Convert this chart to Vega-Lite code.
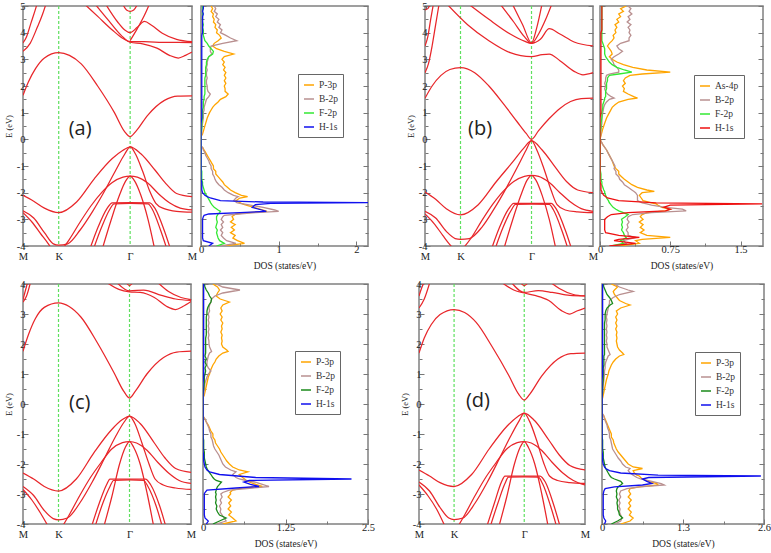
{
"$schema":"https://vega.github.io/schema/vega-lite/v6.json",
"padding":{"left":3,"top":0,"right":0,"bottom":0},
"background":"white",
"config":{
 "view":{"stroke":"#808080","strokeWidth":1.5},
 "axis":{"domain":false,"grid":false,"labelFont":"Liberation Serif","labelFontSize":10.5,"labelColor":"#222","tickColor":"#777","tickWidth":1,"titleFont":"Liberation Serif","titleFontWeight":"normal","titleColor":"#222","labelFlush":false,"labelOverlap":false,"labelBound":false}
},
"datasets":{
"kpts":[{"k":1},{"k":3}],
"bandA":[
{"b":"c1","k":0,"e":1.65},{"b":"c1","k":0.15,"e":2.15},{"b":"c1","k":0.35,"e":2.65},{"b":"c1","k":0.6,"e":3.05},{"b":"c1","k":1,"e":3.25},{"b":"c1","k":1.3,"e":3.15},{"b":"c1","k":1.63,"e":2.83},{"b":"c1","k":2.09,"e":2.0},{"b":"c1","k":2.56,"e":1.0},{"b":"c1","k":2.84,"e":0.3},{"b":"c1","k":3,"e":0.1},{"b":"c1","k":3.16,"e":0.3},{"b":"c1","k":3.49,"e":0.9},{"b":"c1","k":3.96,"e":1.46},{"b":"c1","k":4.33,"e":1.62},{"b":"c1","k":4.732,"e":1.63},
{"b":"u1","k":0,"e":3.3},{"b":"u1","k":0.2,"e":3.6},{"b":"u1","k":0.4,"e":4.2},{"b":"u1","k":0.55,"e":4.7},{"b":"u1","k":0.65,"e":5.1},
{"b":"u2","k":0,"e":3.62},{"b":"u2","k":0.1,"e":3.85},{"b":"u2","k":0.22,"e":4.35},{"b":"u2","k":0.33,"e":4.8},{"b":"u2","k":0.4,"e":5.1},
{"b":"u3","k":1.7,"e":5.1},{"b":"u3","k":2.1,"e":4.6},{"b":"u3","k":2.5,"e":4.1},{"b":"u3","k":2.8,"e":3.78},{"b":"u3","k":3,"e":3.66},{"b":"u3","k":3.4,"e":3.66},{"b":"u3","k":3.9,"e":3.64},{"b":"u3","k":4.732,"e":3.63},
{"b":"u4","k":2.0,"e":5.1},{"b":"u4","k":2.4,"e":4.45},{"b":"u4","k":2.75,"e":3.9},{"b":"u4","k":3,"e":3.64},{"b":"u4","k":3.35,"e":3.58},{"b":"u4","k":3.75,"e":3.42},{"b":"u4","k":4.1,"e":3.15},{"b":"u4","k":4.35,"e":3.05},{"b":"u4","k":4.55,"e":3.15},{"b":"u4","k":4.732,"e":3.27},
{"b":"u5","k":2.3,"e":5.1},{"b":"u5","k":2.65,"e":4.4},{"b":"u5","k":2.85,"e":4.1},{"b":"u5","k":3,"e":4.0},{"b":"u5","k":3.2,"e":4.2},{"b":"u5","k":3.4,"e":4.42},{"b":"u5","k":3.6,"e":4.28},{"b":"u5","k":3.9,"e":3.98},{"b":"u5","k":4.3,"e":3.75},{"b":"u5","k":4.732,"e":3.66},
{"b":"u6","k":2.78,"e":5.1},{"b":"u6","k":2.9,"e":4.85},{"b":"u6","k":3,"e":4.8},{"b":"u6","k":3.1,"e":4.85},{"b":"u6","k":3.22,"e":5.1},
{"b":"u7","k":3,"e":3.7},{"b":"u7","k":3.2,"e":4.15},{"b":"u7","k":3.4,"e":4.65},{"b":"u7","k":3.55,"e":5.1},
{"b":"v1","k":0,"e":-2.1},{"b":"v1","k":0.3,"e":-2.32},{"b":"v1","k":0.6,"e":-2.58},{"b":"v1","k":1,"e":-2.75},{"b":"v1","k":1.5,"e":-2.35},{"b":"v1","k":2.0,"e":-1.47},{"b":"v1","k":2.5,"e":-0.72},{"b":"v1","k":2.8,"e":-0.41},{"b":"v1","k":3,"e":-0.28},{"b":"v1","k":3.3,"e":-0.54},{"b":"v1","k":3.7,"e":-1.16},{"b":"v1","k":4.0,"e":-1.66},{"b":"v1","k":4.3,"e":-2.03},{"b":"v1","k":4.732,"e":-2.15},
{"b":"v2","k":0,"e":-2.68},{"b":"v2","k":0.3,"e":-2.95},{"b":"v2","k":0.6,"e":-3.5},{"b":"v2","k":0.85,"e":-3.92},{"b":"v2","k":1.0,"e":-3.97},{"b":"v2","k":1.25,"e":-3.92},{"b":"v2","k":1.6,"e":-3.4},{"b":"v2","k":1.95,"e":-2.7},{"b":"v2","k":2.3,"e":-1.9},{"b":"v2","k":2.6,"e":-1.15},{"b":"v2","k":2.85,"e":-0.55},{"b":"v2","k":3,"e":-0.28},{"b":"v2","k":3.15,"e":-0.55},{"b":"v2","k":3.35,"e":-1.2},{"b":"v2","k":3.55,"e":-1.95},{"b":"v2","k":3.72,"e":-2.4},{"b":"v2","k":3.95,"e":-2.6},{"b":"v2","k":4.3,"e":-2.7},{"b":"v2","k":4.732,"e":-2.73},
{"b":"v3","k":0,"e":-2.75},{"b":"v3","k":0.25,"e":-3.1},{"b":"v3","k":0.5,"e":-3.55},{"b":"v3","k":0.7,"e":-3.9},{"b":"v3","k":0.8,"e":-4.1},
{"b":"v4","k":1.0,"e":-4.3},{"b":"v4","k":1.3,"e":-3.75},{"b":"v4","k":1.6,"e":-3.1},{"b":"v4","k":1.9,"e":-2.5},{"b":"v4","k":2.2,"e":-2.0},{"b":"v4","k":2.5,"e":-1.62},{"b":"v4","k":2.8,"e":-1.42},{"b":"v4","k":3,"e":-1.38},{"b":"v4","k":3.2,"e":-1.42},{"b":"v4","k":3.5,"e":-1.65},{"b":"v4","k":3.8,"e":-2.05},{"b":"v4","k":4.1,"e":-2.38},{"b":"v4","k":4.4,"e":-2.58},{"b":"v4","k":4.732,"e":-2.65},
{"b":"v5","k":2.2,"e":-4.2},{"b":"v5","k":2.45,"e":-3.1},{"b":"v5","k":2.7,"e":-2.1},{"b":"v5","k":2.88,"e":-1.55},{"b":"v5","k":3,"e":-1.38},{"b":"v5","k":3.12,"e":-1.55},{"b":"v5","k":3.3,"e":-2.1},{"b":"v5","k":3.5,"e":-3.0},{"b":"v5","k":3.7,"e":-4.2},
{"b":"v6","k":1.85,"e":-4.2},{"b":"v6","k":2.1,"e":-3.3},{"b":"v6","k":2.35,"e":-2.6},{"b":"v6","k":2.5,"e":-2.38},{"b":"v6","k":3,"e":-2.37},{"b":"v6","k":3.55,"e":-2.38},{"b":"v6","k":3.7,"e":-2.6},{"b":"v6","k":3.95,"e":-3.4},{"b":"v6","k":4.15,"e":-4.2},
{"b":"v7","k":1.95,"e":-4.2},{"b":"v7","k":2.2,"e":-3.3},{"b":"v7","k":2.42,"e":-2.65},{"b":"v7","k":2.55,"e":-2.42},{"b":"v7","k":3,"e":-2.4},{"b":"v7","k":3.5,"e":-2.42},{"b":"v7","k":3.62,"e":-2.62},{"b":"v7","k":3.85,"e":-3.4},{"b":"v7","k":4.05,"e":-4.2}
],
"bandB":[
{"b":"c1","k":0,"e":1.54},{"b":"c1","k":0.2,"e":2.0},{"b":"c1","k":0.45,"e":2.4},{"b":"c1","k":0.7,"e":2.62},{"b":"c1","k":1,"e":2.69},{"b":"c1","k":1.4,"e":2.5},{"b":"c1","k":1.8,"e":2.0},{"b":"c1","k":2.2,"e":1.35},{"b":"c1","k":2.6,"e":0.65},{"b":"c1","k":2.85,"e":0.22},{"b":"c1","k":3,"e":0.0},{"b":"c1","k":3.2,"e":0.33},{"b":"c1","k":3.5,"e":0.78},{"b":"c1","k":3.8,"e":1.16},{"b":"c1","k":4.1,"e":1.42},{"b":"c1","k":4.4,"e":1.53},{"b":"c1","k":4.732,"e":1.55},
{"b":"u1","k":0,"e":2.5},{"b":"u1","k":0.1,"e":2.85},{"b":"u1","k":0.2,"e":3.5},{"b":"u1","k":0.3,"e":4.3},{"b":"u1","k":0.4,"e":5.1},
{"b":"u2","k":0,"e":3.5},{"b":"u2","k":0.08,"e":3.85},{"b":"u2","k":0.16,"e":4.5},{"b":"u2","k":0.24,"e":5.1},
{"b":"u3","k":0,"e":4.85},{"b":"u3","k":0.08,"e":4.9},{"b":"u3","k":0.15,"e":5.1},
{"b":"u4","k":1.2,"e":5.1},{"b":"u4","k":1.8,"e":4.5},{"b":"u4","k":2.4,"e":3.95},{"b":"u4","k":2.8,"e":3.68},{"b":"u4","k":3,"e":3.6},{"b":"u4","k":3.25,"e":3.75},{"b":"u4","k":3.5,"e":4.15},{"b":"u4","k":3.8,"e":3.95},{"b":"u4","k":4.2,"e":3.65},{"b":"u4","k":4.732,"e":3.5},
{"b":"u5","k":2.1,"e":5.1},{"b":"u5","k":2.5,"e":4.4},{"b":"u5","k":2.8,"e":3.85},{"b":"u5","k":3,"e":3.6},{"b":"u5","k":3.2,"e":3.95},{"b":"u5","k":3.4,"e":4.5},{"b":"u5","k":3.58,"e":5.1},
{"b":"u6","k":2.45,"e":5.1},{"b":"u6","k":2.75,"e":4.3},{"b":"u6","k":3,"e":3.62},{"b":"u6","k":3.15,"e":4.2},{"b":"u6","k":3.3,"e":5.1},
{"b":"u7","k":0.6,"e":5.1},{"b":"u7","k":1.2,"e":4.3},{"b":"u7","k":1.8,"e":3.7},{"b":"u7","k":2.4,"e":3.25},{"b":"u7","k":3,"e":3.1},{"b":"u7","k":3.3,"e":3.18},{"b":"u7","k":3.5,"e":3.2},{"b":"u7","k":3.8,"e":2.95},{"b":"u7","k":4.2,"e":2.55},{"b":"u7","k":4.45,"e":2.42},{"b":"u7","k":4.732,"e":2.5},
{"b":"v1","k":0,"e":-1.98},{"b":"v1","k":0.3,"e":-2.25},{"b":"v1","k":0.6,"e":-2.6},{"b":"v1","k":1,"e":-2.83},{"b":"v1","k":1.5,"e":-2.45},{"b":"v1","k":2.0,"e":-1.6},{"b":"v1","k":2.5,"e":-0.8},{"b":"v1","k":2.8,"e":-0.3},{"b":"v1","k":3,"e":-0.05},{"b":"v1","k":3.3,"e":-0.4},{"b":"v1","k":3.7,"e":-1.1},{"b":"v1","k":4.0,"e":-1.6},{"b":"v1","k":4.3,"e":-1.9},{"b":"v1","k":4.732,"e":-2.0},
{"b":"v2","k":0,"e":-2.7},{"b":"v2","k":0.3,"e":-2.95},{"b":"v2","k":0.6,"e":-3.45},{"b":"v2","k":0.85,"e":-3.72},{"b":"v2","k":1.0,"e":-3.75},{"b":"v2","k":1.25,"e":-3.72},{"b":"v2","k":1.6,"e":-3.3},{"b":"v2","k":1.95,"e":-2.6},{"b":"v2","k":2.3,"e":-1.8},{"b":"v2","k":2.6,"e":-1.05},{"b":"v2","k":2.85,"e":-0.4},{"b":"v2","k":3,"e":-0.05},{"b":"v2","k":3.15,"e":-0.4},{"b":"v2","k":3.35,"e":-1.1},{"b":"v2","k":3.55,"e":-1.9},{"b":"v2","k":3.72,"e":-2.45},{"b":"v2","k":3.95,"e":-2.65},{"b":"v2","k":4.3,"e":-2.72},{"b":"v2","k":4.732,"e":-2.75},
{"b":"v3","k":0,"e":-2.8},{"b":"v3","k":0.25,"e":-3.15},{"b":"v3","k":0.5,"e":-3.6},{"b":"v3","k":0.7,"e":-3.95},{"b":"v3","k":0.8,"e":-4.1},
{"b":"v4","k":1.0,"e":-4.2},{"b":"v4","k":1.3,"e":-3.7},{"b":"v4","k":1.6,"e":-3.05},{"b":"v4","k":1.9,"e":-2.45},{"b":"v4","k":2.2,"e":-1.95},{"b":"v4","k":2.5,"e":-1.58},{"b":"v4","k":2.8,"e":-1.39},{"b":"v4","k":3,"e":-1.35},{"b":"v4","k":3.2,"e":-1.39},{"b":"v4","k":3.5,"e":-1.62},{"b":"v4","k":3.8,"e":-2.0},{"b":"v4","k":4.1,"e":-2.35},{"b":"v4","k":4.4,"e":-2.6},{"b":"v4","k":4.732,"e":-2.7},
{"b":"v5","k":2.2,"e":-4.2},{"b":"v5","k":2.45,"e":-3.1},{"b":"v5","k":2.7,"e":-2.1},{"b":"v5","k":2.88,"e":-1.52},{"b":"v5","k":3,"e":-1.35},{"b":"v5","k":3.12,"e":-1.52},{"b":"v5","k":3.3,"e":-2.1},{"b":"v5","k":3.5,"e":-3.0},{"b":"v5","k":3.7,"e":-4.2},
{"b":"v6","k":1.85,"e":-4.2},{"b":"v6","k":2.1,"e":-3.3},{"b":"v6","k":2.35,"e":-2.62},{"b":"v6","k":2.5,"e":-2.4},{"b":"v6","k":3,"e":-2.4},{"b":"v6","k":3.55,"e":-2.4},{"b":"v6","k":3.7,"e":-2.62},{"b":"v6","k":3.95,"e":-3.4},{"b":"v6","k":4.15,"e":-4.2},
{"b":"v7","k":1.95,"e":-4.2},{"b":"v7","k":2.2,"e":-3.3},{"b":"v7","k":2.42,"e":-2.68},{"b":"v7","k":2.55,"e":-2.44},{"b":"v7","k":3,"e":-2.43},{"b":"v7","k":3.5,"e":-2.44},{"b":"v7","k":3.62,"e":-2.65},{"b":"v7","k":3.85,"e":-3.4},{"b":"v7","k":4.05,"e":-4.2}
],
"bandC":[
{"b":"c1","k":0,"e":1.76},{"b":"c1","k":0.15,"e":2.3},{"b":"c1","k":0.35,"e":2.85},{"b":"c1","k":0.6,"e":3.22},{"b":"c1","k":1,"e":3.37},{"b":"c1","k":1.3,"e":3.25},{"b":"c1","k":1.63,"e":2.9},{"b":"c1","k":2.09,"e":2.05},{"b":"c1","k":2.56,"e":1.05},{"b":"c1","k":2.84,"e":0.42},{"b":"c1","k":3,"e":0.2},{"b":"c1","k":3.16,"e":0.42},{"b":"c1","k":3.49,"e":1.0},{"b":"c1","k":3.96,"e":1.55},{"b":"c1","k":4.33,"e":1.73},{"b":"c1","k":4.732,"e":1.76},
{"b":"u1","k":0,"e":3.4},{"b":"u1","k":0.1,"e":3.6},{"b":"u1","k":0.22,"e":4.1},
{"b":"u2","k":0,"e":3.48},{"b":"u2","k":0.06,"e":3.75},{"b":"u2","k":0.14,"e":4.1},
{"b":"u3","k":2.3,"e":4.1},{"b":"u3","k":2.7,"e":3.82},{"b":"u3","k":3,"e":3.74},{"b":"u3","k":3.3,"e":3.72},{"b":"u3","k":3.7,"e":3.55},{"b":"u3","k":4.05,"e":3.25},{"b":"u3","k":4.3,"e":3.15},{"b":"u3","k":4.5,"e":3.25},{"b":"u3","k":4.732,"e":3.42},
{"b":"u4","k":2.6,"e":4.1},{"b":"u4","k":3,"e":3.77},{"b":"u4","k":3.4,"e":3.8},{"b":"u4","k":3.9,"e":3.62},{"b":"u4","k":4.3,"e":3.5},{"b":"u4","k":4.732,"e":3.45},
{"b":"u5","k":2.88,"e":4.1},{"b":"u5","k":3,"e":3.95},{"b":"u5","k":3.12,"e":4.1},
{"b":"u6","k":3.75,"e":4.1},{"b":"u6","k":4.1,"e":3.75},{"b":"u6","k":4.45,"e":3.55},{"b":"u6","k":4.732,"e":3.48},
{"b":"v1","k":0,"e":-2.3},{"b":"v1","k":0.3,"e":-2.5},{"b":"v1","k":0.6,"e":-2.75},{"b":"v1","k":1,"e":-2.9},{"b":"v1","k":1.5,"e":-2.5},{"b":"v1","k":2.0,"e":-1.62},{"b":"v1","k":2.5,"e":-0.85},{"b":"v1","k":2.8,"e":-0.52},{"b":"v1","k":3,"e":-0.4},{"b":"v1","k":3.3,"e":-0.65},{"b":"v1","k":3.7,"e":-1.3},{"b":"v1","k":4.0,"e":-1.8},{"b":"v1","k":4.3,"e":-2.15},{"b":"v1","k":4.732,"e":-2.28},
{"b":"v2","k":0,"e":-2.75},{"b":"v2","k":0.3,"e":-3.05},{"b":"v2","k":0.6,"e":-3.55},{"b":"v2","k":0.85,"e":-3.82},{"b":"v2","k":1.0,"e":-3.86},{"b":"v2","k":1.25,"e":-3.8},{"b":"v2","k":1.6,"e":-3.3},{"b":"v2","k":1.95,"e":-2.6},{"b":"v2","k":2.3,"e":-1.8},{"b":"v2","k":2.6,"e":-1.1},{"b":"v2","k":2.85,"e":-0.6},{"b":"v2","k":3,"e":-0.4},{"b":"v2","k":3.15,"e":-0.65},{"b":"v2","k":3.35,"e":-1.3},{"b":"v2","k":3.55,"e":-2.0},{"b":"v2","k":3.72,"e":-2.5},{"b":"v2","k":3.95,"e":-2.7},{"b":"v2","k":4.3,"e":-2.8},{"b":"v2","k":4.732,"e":-2.85},
{"b":"v3","k":0,"e":-2.85},{"b":"v3","k":0.25,"e":-3.2},{"b":"v3","k":0.5,"e":-3.65},{"b":"v3","k":0.72,"e":-4.1},
{"b":"v4","k":1.0,"e":-4.3},{"b":"v4","k":1.3,"e":-3.7},{"b":"v4","k":1.6,"e":-3.05},{"b":"v4","k":1.9,"e":-2.45},{"b":"v4","k":2.2,"e":-1.95},{"b":"v4","k":2.5,"e":-1.5},{"b":"v4","k":2.8,"e":-1.29},{"b":"v4","k":3,"e":-1.25},{"b":"v4","k":3.2,"e":-1.3},{"b":"v4","k":3.5,"e":-1.55},{"b":"v4","k":3.8,"e":-1.95},{"b":"v4","k":4.1,"e":-2.3},{"b":"v4","k":4.4,"e":-2.55},{"b":"v4","k":4.732,"e":-2.65},
{"b":"v5","k":2.25,"e":-4.2},{"b":"v5","k":2.5,"e":-3.1},{"b":"v5","k":2.72,"e":-2.0},{"b":"v5","k":2.88,"e":-1.45},{"b":"v5","k":3,"e":-1.25},{"b":"v5","k":3.12,"e":-1.45},{"b":"v5","k":3.3,"e":-2.0},{"b":"v5","k":3.5,"e":-3.0},{"b":"v5","k":3.7,"e":-4.2},
{"b":"v6","k":1.9,"e":-4.2},{"b":"v6","k":2.15,"e":-3.3},{"b":"v6","k":2.35,"e":-2.7},{"b":"v6","k":2.45,"e":-2.5},{"b":"v6","k":3,"e":-2.5},{"b":"v6","k":3.45,"e":-2.5},{"b":"v6","k":3.6,"e":-2.7},{"b":"v6","k":3.85,"e":-3.4},{"b":"v6","k":4.05,"e":-4.2},
{"b":"v7","k":2.0,"e":-4.2},{"b":"v7","k":2.25,"e":-3.3},{"b":"v7","k":2.45,"e":-2.75},{"b":"v7","k":2.55,"e":-2.55},{"b":"v7","k":3,"e":-2.53},{"b":"v7","k":3.4,"e":-2.55},{"b":"v7","k":3.52,"e":-2.75},{"b":"v7","k":3.75,"e":-3.4},{"b":"v7","k":3.95,"e":-4.2}
],
"bandD":[
{"b":"c1","k":0,"e":1.7},{"b":"c1","k":0.15,"e":2.2},{"b":"c1","k":0.35,"e":2.65},{"b":"c1","k":0.6,"e":2.98},{"b":"c1","k":1,"e":3.15},{"b":"c1","k":1.3,"e":3.05},{"b":"c1","k":1.63,"e":2.72},{"b":"c1","k":2.09,"e":1.9},{"b":"c1","k":2.56,"e":0.95},{"b":"c1","k":2.84,"e":0.33},{"b":"c1","k":3,"e":0.13},{"b":"c1","k":3.16,"e":0.33},{"b":"c1","k":3.49,"e":0.92},{"b":"c1","k":3.96,"e":1.5},{"b":"c1","k":4.33,"e":1.68},{"b":"c1","k":4.732,"e":1.7},
{"b":"u1","k":0,"e":3.2},{"b":"u1","k":0.15,"e":3.5},{"b":"u1","k":0.32,"e":4.1},
{"b":"u2","k":0,"e":3.6},{"b":"u2","k":0.07,"e":3.85},{"b":"u2","k":0.16,"e":4.1},
{"b":"u3","k":2.3,"e":4.1},{"b":"u3","k":2.7,"e":3.8},{"b":"u3","k":3,"e":3.7},{"b":"u3","k":3.3,"e":3.62},{"b":"u3","k":3.7,"e":3.45},{"b":"u3","k":4.05,"e":3.12},{"b":"u3","k":4.3,"e":3.0},{"b":"u3","k":4.5,"e":3.1},{"b":"u3","k":4.732,"e":3.2},
{"b":"u4","k":2.6,"e":4.1},{"b":"u4","k":3,"e":3.72},{"b":"u4","k":3.4,"e":3.78},{"b":"u4","k":3.8,"e":3.72},{"b":"u4","k":4.3,"e":3.62},{"b":"u4","k":4.732,"e":3.6},
{"b":"u5","k":2.85,"e":4.1},{"b":"u5","k":3,"e":3.95},{"b":"u5","k":3.15,"e":4.1},
{"b":"u6","k":3.7,"e":4.1},{"b":"u6","k":4.0,"e":3.85},{"b":"u6","k":4.4,"e":3.65},{"b":"u6","k":4.732,"e":3.6},
{"b":"v1","k":0,"e":-2.2},{"b":"v1","k":0.3,"e":-2.4},{"b":"v1","k":0.6,"e":-2.62},{"b":"v1","k":1,"e":-2.75},{"b":"v1","k":1.5,"e":-2.35},{"b":"v1","k":2.0,"e":-1.5},{"b":"v1","k":2.5,"e":-0.75},{"b":"v1","k":2.8,"e":-0.43},{"b":"v1","k":3,"e":-0.3},{"b":"v1","k":3.3,"e":-0.56},{"b":"v1","k":3.7,"e":-1.2},{"b":"v1","k":4.0,"e":-1.7},{"b":"v1","k":4.3,"e":-2.05},{"b":"v1","k":4.732,"e":-2.2},
{"b":"v2","k":0,"e":-2.6},{"b":"v2","k":0.3,"e":-2.9},{"b":"v2","k":0.6,"e":-3.45},{"b":"v2","k":0.85,"e":-3.8},{"b":"v2","k":1.0,"e":-3.85},{"b":"v2","k":1.25,"e":-3.8},{"b":"v2","k":1.6,"e":-3.3},{"b":"v2","k":1.95,"e":-2.6},{"b":"v2","k":2.3,"e":-1.8},{"b":"v2","k":2.6,"e":-1.1},{"b":"v2","k":2.85,"e":-0.57},{"b":"v2","k":3,"e":-0.3},{"b":"v2","k":3.15,"e":-0.57},{"b":"v2","k":3.35,"e":-1.2},{"b":"v2","k":3.55,"e":-1.95},{"b":"v2","k":3.72,"e":-2.4},{"b":"v2","k":3.95,"e":-2.55},{"b":"v2","k":4.3,"e":-2.62},{"b":"v2","k":4.732,"e":-2.65},
{"b":"v3","k":0,"e":-2.7},{"b":"v3","k":0.25,"e":-3.05},{"b":"v3","k":0.5,"e":-3.5},{"b":"v3","k":0.75,"e":-4.1},
{"b":"v4","k":1.0,"e":-4.3},{"b":"v4","k":1.3,"e":-3.7},{"b":"v4","k":1.6,"e":-3.05},{"b":"v4","k":1.9,"e":-2.45},{"b":"v4","k":2.2,"e":-1.95},{"b":"v4","k":2.5,"e":-1.5},{"b":"v4","k":2.8,"e":-1.29},{"b":"v4","k":3,"e":-1.25},{"b":"v4","k":3.2,"e":-1.3},{"b":"v4","k":3.5,"e":-1.55},{"b":"v4","k":3.8,"e":-1.95},{"b":"v4","k":4.1,"e":-2.3},{"b":"v4","k":4.4,"e":-2.55},{"b":"v4","k":4.732,"e":-2.7},
{"b":"v5","k":2.25,"e":-4.2},{"b":"v5","k":2.5,"e":-3.1},{"b":"v5","k":2.72,"e":-2.0},{"b":"v5","k":2.88,"e":-1.45},{"b":"v5","k":3,"e":-1.25},{"b":"v5","k":3.12,"e":-1.45},{"b":"v5","k":3.3,"e":-2.0},{"b":"v5","k":3.5,"e":-3.0},{"b":"v5","k":3.7,"e":-4.2},
{"b":"v6","k":1.9,"e":-4.2},{"b":"v6","k":2.15,"e":-3.3},{"b":"v6","k":2.35,"e":-2.6},{"b":"v6","k":2.45,"e":-2.4},{"b":"v6","k":3,"e":-2.4},{"b":"v6","k":3.45,"e":-2.4},{"b":"v6","k":3.6,"e":-2.6},{"b":"v6","k":3.85,"e":-3.4},{"b":"v6","k":4.05,"e":-4.2},
{"b":"v7","k":2.0,"e":-4.2},{"b":"v7","k":2.25,"e":-3.3},{"b":"v7","k":2.45,"e":-2.65},{"b":"v7","k":2.55,"e":-2.44},{"b":"v7","k":3,"e":-2.43},{"b":"v7","k":3.4,"e":-2.44},{"b":"v7","k":3.52,"e":-2.65},{"b":"v7","k":3.75,"e":-3.4},{"b":"v7","k":3.95,"e":-4.2}
],
"dosA":[
{"e":5.0,"P":0.13,"B":0.17,"F":0.02,"H":0.03},{"e":4.9,"P":0.15,"B":0.19,"F":0.02,"H":0.03},{"e":4.8,"P":0.13,"B":0.17,"F":0.02,"H":0.02},{"e":4.7,"P":0.16,"B":0.21,"F":0.02,"H":0.03},{"e":4.6,"P":0.15,"B":0.19,"F":0.02,"H":0.02},{"e":4.5,"P":0.17,"B":0.23,"F":0.02,"H":0.02},{"e":4.4,"P":0.16,"B":0.21,"F":0.02,"H":0.02},{"e":4.3,"P":0.19,"B":0.25,"F":0.03,"H":0.02},{"e":4.2,"P":0.18,"B":0.23,"F":0.02,"H":0.02},{"e":4.1,"P":0.21,"B":0.27,"F":0.03,"H":0.02},{"e":4.0,"P":0.2,"B":0.25,"F":0.03,"H":0.02},{"e":3.9,"P":0.24,"B":0.32,"F":0.03,"H":0.01},{"e":3.8,"P":0.26,"B":0.38,"F":0.04,"H":0.01},{"e":3.7,"P":0.22,"B":0.46,"F":0.05,"H":0.01},{"e":3.6,"P":0.17,"B":0.28,"F":0.08,"H":0.01},{"e":3.5,"P":0.15,"B":0.13,"F":0.1,"H":0.01},{"e":3.4,"P":0.2,"B":0.12,"F":0.13,"H":0.01},{"e":3.3,"P":0.3,"B":0.12,"F":0.16,"H":0.01},{"e":3.2,"P":0.42,"B":0.14,"F":0.15,"H":0.01},{"e":3.1,"P":0.3,"B":0.1,"F":0.1,"H":0.01},{"e":3.0,"P":0.27,"B":0.09,"F":0.08,"H":0.01},{"e":2.9,"P":0.3,"B":0.08,"F":0.07,"H":0.01},{"e":2.8,"P":0.28,"B":0.08,"F":0.07,"H":0.01},{"e":2.7,"P":0.31,"B":0.07,"F":0.06,"H":0.01},{"e":2.6,"P":0.29,"B":0.08,"F":0.06,"H":0.01},{"e":2.5,"P":0.32,"B":0.07,"F":0.06,"H":0.01},{"e":2.4,"P":0.3,"B":0.07,"F":0.06,"H":0.01},{"e":2.3,"P":0.32,"B":0.08,"F":0.05,"H":0.01},{"e":2.2,"P":0.3,"B":0.07,"F":0.05,"H":0.01},{"e":2.1,"P":0.32,"B":0.07,"F":0.05,"H":0.01},{"e":2.0,"P":0.3,"B":0.08,"F":0.05,"H":0.01},{"e":1.9,"P":0.31,"B":0.08,"F":0.05,"H":0.01},{"e":1.8,"P":0.31,"B":0.09,"F":0.05,"H":0.01},{"e":1.7,"P":0.35,"B":0.12,"F":0.05,"H":0.01},{"e":1.6,"P":0.32,"B":0.1,"F":0.04,"H":0.01},{"e":1.5,"P":0.25,"B":0.07,"F":0.04,"H":0.01},{"e":1.4,"P":0.22,"B":0.06,"F":0.03,"H":0.01},{"e":1.3,"P":0.18,"B":0.05,"F":0.03,"H":0.01},{"e":1.2,"P":0.15,"B":0.04,"F":0.03,"H":0.01},{"e":1.1,"P":0.13,"B":0.04,"F":0.02,"H":0.01},{"e":1.0,"P":0.11,"B":0.03,"F":0.02,"H":0.01},{"e":0.8,"P":0.08,"B":0.03,"F":0.02,"H":0.01},{"e":0.6,"P":0.06,"B":0.02,"F":0.01,"H":0.0},{"e":0.4,"P":0.04,"B":0.01,"F":0.01,"H":0.0},{"e":0.2,"P":0.02,"B":0.01,"F":0.0,"H":0.0},{"e":0.1,"P":0.0,"B":0.0,"F":0.0,"H":0.0},
{"e":-0.28,"P":0.0,"B":0.0,"F":0.0,"H":0.0},{"e":-0.3,"P":0.02,"B":0.02,"F":0.0,"H":0.0},{"e":-0.4,"P":0.04,"B":0.03,"F":0.0,"H":0.0},{"e":-0.5,"P":0.06,"B":0.05,"F":0.0,"H":0.0},{"e":-0.6,"P":0.08,"B":0.06,"F":0.0,"H":0.0},{"e":-0.7,"P":0.1,"B":0.08,"F":0.0,"H":0.0},{"e":-0.8,"P":0.12,"B":0.1,"F":0.0,"H":0.0},{"e":-0.9,"P":0.14,"B":0.11,"F":0.0,"H":0.0},{"e":-1.0,"P":0.16,"B":0.13,"F":0.0,"H":0.0},{"e":-1.1,"P":0.16,"B":0.13,"F":0.0,"H":0.0},{"e":-1.2,"P":0.19,"B":0.15,"F":0.01,"H":0.0},{"e":-1.3,"P":0.19,"B":0.15,"F":0.01,"H":0.0},{"e":-1.4,"P":0.22,"B":0.17,"F":0.01,"H":0.0},{"e":-1.5,"P":0.25,"B":0.18,"F":0.01,"H":0.0},{"e":-1.6,"P":0.28,"B":0.2,"F":0.02,"H":0.01},{"e":-1.7,"P":0.3,"B":0.23,"F":0.02,"H":0.01},{"e":-1.8,"P":0.34,"B":0.27,"F":0.03,"H":0.01},{"e":-1.9,"P":0.38,"B":0.3,"F":0.04,"H":0.01},{"e":-2.0,"P":0.44,"B":0.35,"F":0.05,"H":0.02},{"e":-2.1,"P":0.52,"B":0.42,"F":0.07,"H":0.05},{"e":-2.15,"P":0.6,"B":0.48,"F":0.08,"H":0.08},{"e":-2.2,"P":0.5,"B":0.45,"F":0.09,"H":0.12},{"e":-2.3,"P":0.45,"B":0.42,"F":0.11,"H":0.25},{"e":-2.35,"P":0.48,"B":0.45,"F":0.12,"H":0.8},{"e":-2.37,"P":0.5,"B":0.46,"F":0.12,"H":2.15},{"e":-2.4,"P":0.52,"B":0.5,"F":0.13,"H":0.9},{"e":-2.45,"P":0.56,"B":0.6,"F":0.14,"H":0.7},{"e":-2.55,"P":0.68,"B":0.8,"F":0.17,"H":0.66},{"e":-2.65,"P":0.8,"B":0.95,"F":0.22,"H":0.78},{"e":-2.7,"P":0.85,"B":1.0,"F":0.25,"H":0.84},{"e":-2.75,"P":0.6,"B":0.7,"F":0.24,"H":0.5},{"e":-2.8,"P":0.45,"B":0.48,"F":0.22,"H":0.1},{"e":-2.85,"P":0.42,"B":0.3,"F":0.21,"H":0.04},{"e":-2.9,"P":0.4,"B":0.28,"F":0.2,"H":0.03},{"e":-3.0,"P":0.42,"B":0.26,"F":0.2,"H":0.02},{"e":-3.1,"P":0.38,"B":0.29,"F":0.21,"H":0.02},{"e":-3.2,"P":0.44,"B":0.26,"F":0.2,"H":0.02},{"e":-3.3,"P":0.39,"B":0.28,"F":0.19,"H":0.02},{"e":-3.4,"P":0.43,"B":0.25,"F":0.21,"H":0.02},{"e":-3.5,"P":0.38,"B":0.28,"F":0.2,"H":0.02},{"e":-3.6,"P":0.44,"B":0.26,"F":0.21,"H":0.02},{"e":-3.7,"P":0.41,"B":0.29,"F":0.22,"H":0.02},{"e":-3.8,"P":0.47,"B":0.33,"F":0.24,"H":0.03},{"e":-3.9,"P":0.56,"B":0.45,"F":0.3,"H":0.15},{"e":-4.0,"P":0.3,"B":0.25,"F":0.2,"H":0.1}
],
"dosB":[
{"e":5.0,"P":0.28,"B":0.3,"F":0.02,"H":0.02},{"e":4.9,"P":0.22,"B":0.33,"F":0.02,"H":0.02},{"e":4.8,"P":0.25,"B":0.31,"F":0.02,"H":0.02},{"e":4.7,"P":0.2,"B":0.34,"F":0.02,"H":0.02},{"e":4.6,"P":0.22,"B":0.3,"F":0.02,"H":0.02},{"e":4.5,"P":0.18,"B":0.32,"F":0.02,"H":0.02},{"e":4.4,"P":0.2,"B":0.29,"F":0.02,"H":0.02},{"e":4.3,"P":0.16,"B":0.33,"F":0.02,"H":0.02},{"e":4.2,"P":0.18,"B":0.3,"F":0.02,"H":0.02},{"e":4.1,"P":0.16,"B":0.32,"F":0.02,"H":0.02},{"e":4.0,"P":0.17,"B":0.31,"F":0.02,"H":0.01},{"e":3.9,"P":0.14,"B":0.33,"F":0.02,"H":0.01},{"e":3.8,"P":0.15,"B":0.31,"F":0.02,"H":0.01},{"e":3.7,"P":0.13,"B":0.31,"F":0.02,"H":0.01},{"e":3.6,"P":0.1,"B":0.22,"F":0.03,"H":0.01},{"e":3.5,"P":0.08,"B":0.18,"F":0.04,"H":0.01},{"e":3.4,"P":0.1,"B":0.2,"F":0.05,"H":0.01},{"e":3.3,"P":0.12,"B":0.24,"F":0.05,"H":0.01},{"e":3.2,"P":0.13,"B":0.2,"F":0.05,"H":0.01},{"e":3.1,"P":0.1,"B":0.15,"F":0.06,"H":0.01},{"e":3.0,"P":0.13,"B":0.12,"F":0.08,"H":0.01},{"e":2.9,"P":0.18,"B":0.14,"F":0.1,"H":0.01},{"e":2.8,"P":0.25,"B":0.15,"F":0.13,"H":0.01},{"e":2.7,"P":0.35,"B":0.18,"F":0.18,"H":0.01},{"e":2.6,"P":0.5,"B":0.2,"F":0.26,"H":0.01},{"e":2.52,"P":0.75,"B":0.2,"F":0.34,"H":0.01},{"e":2.45,"P":0.45,"B":0.1,"F":0.2,"H":0.01},{"e":2.4,"P":0.32,"B":0.07,"F":0.1,"H":0.01},{"e":2.3,"P":0.27,"B":0.06,"F":0.08,"H":0.01},{"e":2.2,"P":0.25,"B":0.06,"F":0.08,"H":0.01},{"e":2.1,"P":0.27,"B":0.05,"F":0.07,"H":0.01},{"e":2.0,"P":0.24,"B":0.06,"F":0.07,"H":0.01},{"e":1.9,"P":0.26,"B":0.05,"F":0.07,"H":0.01},{"e":1.8,"P":0.25,"B":0.06,"F":0.06,"H":0.01},{"e":1.7,"P":0.3,"B":0.08,"F":0.06,"H":0.01},{"e":1.6,"P":0.36,"B":0.12,"F":0.06,"H":0.01},{"e":1.55,"P":0.4,"B":0.15,"F":0.05,"H":0.01},{"e":1.5,"P":0.3,"B":0.1,"F":0.05,"H":0.01},{"e":1.4,"P":0.2,"B":0.07,"F":0.04,"H":0.01},{"e":1.3,"P":0.16,"B":0.05,"F":0.03,"H":0.01},{"e":1.2,"P":0.13,"B":0.04,"F":0.03,"H":0.01},{"e":1.0,"P":0.1,"B":0.03,"F":0.02,"H":0.01},{"e":0.8,"P":0.07,"B":0.02,"F":0.02,"H":0.0},{"e":0.6,"P":0.05,"B":0.02,"F":0.01,"H":0.0},{"e":0.4,"P":0.03,"B":0.01,"F":0.01,"H":0.0},{"e":0.2,"P":0.015,"B":0.01,"F":0.0,"H":0.0},{"e":0.0,"P":0.0,"B":0.0,"F":0.0,"H":0.0},
{"e":-0.2,"P":0.03,"B":0.03,"F":0.0,"H":0.0},{"e":-0.4,"P":0.07,"B":0.07,"F":0.0,"H":0.0},{"e":-0.6,"P":0.1,"B":0.1,"F":0.0,"H":0.0},{"e":-0.8,"P":0.13,"B":0.13,"F":0.0,"H":0.0},{"e":-1.0,"P":0.15,"B":0.16,"F":0.0,"H":0.0},{"e":-1.1,"P":0.17,"B":0.15,"F":0.0,"H":0.0},{"e":-1.2,"P":0.2,"B":0.17,"F":0.005,"H":0.0},{"e":-1.3,"P":0.2,"B":0.17,"F":0.01,"H":0.0},{"e":-1.4,"P":0.23,"B":0.2,"F":0.01,"H":0.0},{"e":-1.5,"P":0.26,"B":0.21,"F":0.01,"H":0.0},{"e":-1.6,"P":0.3,"B":0.24,"F":0.02,"H":0.0},{"e":-1.7,"P":0.34,"B":0.26,"F":0.02,"H":0.01},{"e":-1.8,"P":0.4,"B":0.3,"F":0.03,"H":0.01},{"e":-1.9,"P":0.5,"B":0.34,"F":0.04,"H":0.01},{"e":-1.95,"P":0.58,"B":0.36,"F":0.05,"H":0.02},{"e":-2.0,"P":0.45,"B":0.38,"F":0.05,"H":0.02},{"e":-2.1,"P":0.42,"B":0.4,"F":0.06,"H":0.04},{"e":-2.2,"P":0.44,"B":0.4,"F":0.07,"H":0.08},{"e":-2.3,"P":0.46,"B":0.4,"F":0.09,"H":0.2},{"e":-2.38,"P":0.55,"B":0.45,"F":0.1,"H":0.6},{"e":-2.42,"P":0.6,"B":0.5,"F":0.11,"H":1.73},{"e":-2.47,"P":0.62,"B":0.55,"F":0.12,"H":0.75},{"e":-2.55,"P":0.66,"B":0.7,"F":0.14,"H":0.68},{"e":-2.62,"P":0.75,"B":0.88,"F":0.17,"H":0.75},{"e":-2.68,"P":0.7,"B":0.92,"F":0.2,"H":0.7},{"e":-2.75,"P":0.5,"B":0.55,"F":0.25,"H":0.3},{"e":-2.82,"P":0.45,"B":0.35,"F":0.3,"H":0.12},{"e":-2.9,"P":0.43,"B":0.3,"F":0.27,"H":0.08},{"e":-3.0,"P":0.46,"B":0.29,"F":0.23,"H":0.05},{"e":-3.1,"P":0.42,"B":0.31,"F":0.24,"H":0.05},{"e":-3.2,"P":0.46,"B":0.29,"F":0.23,"H":0.05},{"e":-3.3,"P":0.43,"B":0.3,"F":0.24,"H":0.05},{"e":-3.4,"P":0.47,"B":0.28,"F":0.23,"H":0.05},{"e":-3.5,"P":0.43,"B":0.3,"F":0.25,"H":0.06},{"e":-3.6,"P":0.5,"B":0.3,"F":0.26,"H":0.2},{"e":-3.68,"P":0.75,"B":0.38,"F":0.28,"H":0.42},{"e":-3.75,"P":0.45,"B":0.3,"F":0.25,"H":0.2},{"e":-3.8,"P":0.38,"B":0.25,"F":0.22,"H":0.15},{"e":-3.9,"P":0.42,"B":0.28,"F":0.25,"H":0.38},{"e":-4.0,"P":0.2,"B":0.15,"F":0.12,"H":0.1}
],
"dosC":[
{"e":4.0,"P":0.15,"B":0.2,"F":0.02,"H":0.01},{"e":3.9,"P":0.22,"B":0.3,"F":0.03,"H":0.01},{"e":3.8,"P":0.25,"B":0.56,"F":0.05,"H":0.01},{"e":3.7,"P":0.22,"B":0.3,"F":0.08,"H":0.01},{"e":3.6,"P":0.2,"B":0.18,"F":0.1,"H":0.01},{"e":3.5,"P":0.26,"B":0.13,"F":0.13,"H":0.01},{"e":3.4,"P":0.4,"B":0.12,"F":0.12,"H":0.01},{"e":3.3,"P":0.3,"B":0.1,"F":0.09,"H":0.01},{"e":3.2,"P":0.27,"B":0.09,"F":0.07,"H":0.01},{"e":3.1,"P":0.29,"B":0.1,"F":0.06,"H":0.01},{"e":3.0,"P":0.26,"B":0.08,"F":0.06,"H":0.01},{"e":2.9,"P":0.29,"B":0.09,"F":0.05,"H":0.01},{"e":2.8,"P":0.27,"B":0.08,"F":0.05,"H":0.01},{"e":2.7,"P":0.3,"B":0.09,"F":0.05,"H":0.01},{"e":2.6,"P":0.28,"B":0.08,"F":0.05,"H":0.01},{"e":2.5,"P":0.29,"B":0.09,"F":0.05,"H":0.01},{"e":2.4,"P":0.27,"B":0.08,"F":0.05,"H":0.01},{"e":2.3,"P":0.29,"B":0.09,"F":0.05,"H":0.01},{"e":2.2,"P":0.28,"B":0.08,"F":0.04,"H":0.01},{"e":2.1,"P":0.29,"B":0.09,"F":0.04,"H":0.01},{"e":2.0,"P":0.28,"B":0.09,"F":0.04,"H":0.01},{"e":1.9,"P":0.3,"B":0.1,"F":0.04,"H":0.01},{"e":1.8,"P":0.36,"B":0.12,"F":0.04,"H":0.01},{"e":1.75,"P":0.38,"B":0.13,"F":0.04,"H":0.01},{"e":1.7,"P":0.3,"B":0.1,"F":0.04,"H":0.01},{"e":1.6,"P":0.24,"B":0.08,"F":0.03,"H":0.01},{"e":1.5,"P":0.2,"B":0.07,"F":0.05,"H":0.01},{"e":1.4,"P":0.18,"B":0.06,"F":0.03,"H":0.01},{"e":1.3,"P":0.15,"B":0.06,"F":0.05,"H":0.01},{"e":1.2,"P":0.13,"B":0.08,"F":0.03,"H":0.01},{"e":1.1,"P":0.11,"B":0.12,"F":0.04,"H":0.01},{"e":1.0,"P":0.1,"B":0.08,"F":0.03,"H":0.01},{"e":0.9,"P":0.08,"B":0.06,"F":0.02,"H":0.01},{"e":0.7,"P":0.06,"B":0.03,"F":0.02,"H":0.0},{"e":0.5,"P":0.04,"B":0.02,"F":0.01,"H":0.0},{"e":0.3,"P":0.02,"B":0.01,"F":0.0,"H":0.0},{"e":0.2,"P":0.0,"B":0.0,"F":0.0,"H":0.0},
{"e":-0.4,"P":0.0,"B":0.0,"F":0.0,"H":0.0},{"e":-0.5,"P":0.03,"B":0.03,"F":0.0,"H":0.0},{"e":-0.6,"P":0.05,"B":0.05,"F":0.0,"H":0.0},{"e":-0.7,"P":0.08,"B":0.07,"F":0.0,"H":0.0},{"e":-0.8,"P":0.1,"B":0.09,"F":0.0,"H":0.0},{"e":-0.9,"P":0.12,"B":0.1,"F":0.0,"H":0.0},{"e":-1.0,"P":0.15,"B":0.12,"F":0.0,"H":0.0},{"e":-1.1,"P":0.15,"B":0.12,"F":0.0,"H":0.0},{"e":-1.2,"P":0.18,"B":0.14,"F":0.01,"H":0.0},{"e":-1.3,"P":0.19,"B":0.15,"F":0.01,"H":0.0},{"e":-1.4,"P":0.22,"B":0.16,"F":0.01,"H":0.0},{"e":-1.5,"P":0.25,"B":0.18,"F":0.01,"H":0.0},{"e":-1.6,"P":0.27,"B":0.21,"F":0.02,"H":0.0},{"e":-1.7,"P":0.3,"B":0.24,"F":0.02,"H":0.01},{"e":-1.8,"P":0.33,"B":0.26,"F":0.02,"H":0.01},{"e":-1.9,"P":0.36,"B":0.28,"F":0.03,"H":0.01},{"e":-2.0,"P":0.4,"B":0.3,"F":0.04,"H":0.02},{"e":-2.1,"P":0.45,"B":0.34,"F":0.05,"H":0.03},{"e":-2.2,"P":0.55,"B":0.42,"F":0.07,"H":0.06},{"e":-2.26,"P":0.68,"B":0.5,"F":0.09,"H":0.1},{"e":-2.35,"P":0.55,"B":0.45,"F":0.12,"H":0.25},{"e":-2.45,"P":0.6,"B":0.5,"F":0.15,"H":0.8},{"e":-2.5,"P":0.63,"B":0.55,"F":0.17,"H":2.25},{"e":-2.55,"P":0.66,"B":0.65,"F":0.2,"H":0.7},{"e":-2.6,"P":0.7,"B":0.78,"F":0.28,"H":0.62},{"e":-2.68,"P":0.8,"B":0.9,"F":0.25,"H":0.72},{"e":-2.75,"P":0.9,"B":1.0,"F":0.22,"H":0.85},{"e":-2.8,"P":0.6,"B":0.75,"F":0.21,"H":0.5},{"e":-2.87,"P":0.45,"B":0.4,"F":0.2,"H":0.06},{"e":-2.95,"P":0.41,"B":0.3,"F":0.19,"H":0.03},{"e":-3.0,"P":0.42,"B":0.27,"F":0.2,"H":0.02},{"e":-3.1,"P":0.38,"B":0.29,"F":0.19,"H":0.02},{"e":-3.2,"P":0.43,"B":0.26,"F":0.2,"H":0.02},{"e":-3.3,"P":0.39,"B":0.28,"F":0.19,"H":0.02},{"e":-3.4,"P":0.42,"B":0.25,"F":0.21,"H":0.02},{"e":-3.5,"P":0.38,"B":0.27,"F":0.2,"H":0.02},{"e":-3.6,"P":0.43,"B":0.26,"F":0.22,"H":0.02},{"e":-3.7,"P":0.39,"B":0.29,"F":0.25,"H":0.02},{"e":-3.8,"P":0.45,"B":0.32,"F":0.35,"H":0.03},{"e":-3.9,"P":0.5,"B":0.35,"F":0.25,"H":0.08},{"e":-4.0,"P":0.3,"B":0.2,"F":0.15,"H":0.05}
],
"dosD":[
{"e":4.0,"P":0.15,"B":0.2,"F":0.02,"H":0.01},{"e":3.9,"P":0.25,"B":0.28,"F":0.03,"H":0.01},{"e":3.8,"P":0.2,"B":0.42,"F":0.05,"H":0.01},{"e":3.75,"P":0.18,"B":0.5,"F":0.06,"H":0.01},{"e":3.65,"P":0.2,"B":0.28,"F":0.08,"H":0.01},{"e":3.55,"P":0.24,"B":0.18,"F":0.12,"H":0.01},{"e":3.45,"P":0.28,"B":0.12,"F":0.15,"H":0.01},{"e":3.35,"P":0.38,"B":0.12,"F":0.17,"H":0.01},{"e":3.3,"P":0.45,"B":0.11,"F":0.13,"H":0.01},{"e":3.2,"P":0.3,"B":0.1,"F":0.08,"H":0.01},{"e":3.1,"P":0.23,"B":0.09,"F":0.06,"H":0.01},{"e":3.0,"P":0.25,"B":0.08,"F":0.05,"H":0.01},{"e":2.9,"P":0.22,"B":0.07,"F":0.05,"H":0.01},{"e":2.8,"P":0.24,"B":0.08,"F":0.05,"H":0.01},{"e":2.7,"P":0.22,"B":0.07,"F":0.04,"H":0.01},{"e":2.6,"P":0.24,"B":0.08,"F":0.04,"H":0.01},{"e":2.5,"P":0.22,"B":0.07,"F":0.04,"H":0.01},{"e":2.4,"P":0.24,"B":0.08,"F":0.04,"H":0.01},{"e":2.3,"P":0.23,"B":0.07,"F":0.04,"H":0.01},{"e":2.2,"P":0.24,"B":0.08,"F":0.04,"H":0.01},{"e":2.1,"P":0.23,"B":0.07,"F":0.04,"H":0.01},{"e":2.0,"P":0.24,"B":0.08,"F":0.04,"H":0.01},{"e":1.9,"P":0.25,"B":0.08,"F":0.04,"H":0.01},{"e":1.8,"P":0.28,"B":0.1,"F":0.04,"H":0.01},{"e":1.7,"P":0.33,"B":0.12,"F":0.04,"H":0.01},{"e":1.65,"P":0.35,"B":0.13,"F":0.04,"H":0.01},{"e":1.6,"P":0.28,"B":0.1,"F":0.03,"H":0.01},{"e":1.5,"P":0.22,"B":0.08,"F":0.03,"H":0.01},{"e":1.4,"P":0.18,"B":0.06,"F":0.03,"H":0.01},{"e":1.3,"P":0.15,"B":0.05,"F":0.03,"H":0.01},{"e":1.2,"P":0.13,"B":0.05,"F":0.02,"H":0.01},{"e":1.1,"P":0.11,"B":0.04,"F":0.02,"H":0.01},{"e":1.0,"P":0.1,"B":0.04,"F":0.02,"H":0.01},{"e":0.8,"P":0.07,"B":0.03,"F":0.02,"H":0.0},{"e":0.6,"P":0.05,"B":0.02,"F":0.01,"H":0.0},{"e":0.4,"P":0.03,"B":0.01,"F":0.01,"H":0.0},{"e":0.2,"P":0.01,"B":0.0,"F":0.0,"H":0.0},{"e":0.15,"P":0.0,"B":0.0,"F":0.0,"H":0.0},
{"e":-0.3,"P":0.0,"B":0.0,"F":0.0,"H":0.0},{"e":-0.4,"P":0.03,"B":0.03,"F":0.0,"H":0.0},{"e":-0.5,"P":0.05,"B":0.04,"F":0.0,"H":0.0},{"e":-0.6,"P":0.07,"B":0.06,"F":0.0,"H":0.0},{"e":-0.7,"P":0.09,"B":0.08,"F":0.0,"H":0.0},{"e":-0.8,"P":0.11,"B":0.09,"F":0.0,"H":0.0},{"e":-0.9,"P":0.13,"B":0.11,"F":0.0,"H":0.0},{"e":-1.0,"P":0.15,"B":0.12,"F":0.0,"H":0.0},{"e":-1.1,"P":0.15,"B":0.12,"F":0.0,"H":0.0},{"e":-1.2,"P":0.18,"B":0.14,"F":0.01,"H":0.0},{"e":-1.3,"P":0.19,"B":0.15,"F":0.01,"H":0.0},{"e":-1.4,"P":0.21,"B":0.16,"F":0.01,"H":0.0},{"e":-1.5,"P":0.23,"B":0.17,"F":0.01,"H":0.0},{"e":-1.6,"P":0.26,"B":0.2,"F":0.02,"H":0.0},{"e":-1.7,"P":0.3,"B":0.23,"F":0.02,"H":0.01},{"e":-1.8,"P":0.34,"B":0.26,"F":0.02,"H":0.01},{"e":-1.9,"P":0.38,"B":0.3,"F":0.03,"H":0.01},{"e":-2.0,"P":0.42,"B":0.33,"F":0.04,"H":0.02},{"e":-2.1,"P":0.5,"B":0.38,"F":0.05,"H":0.04},{"e":-2.15,"P":0.65,"B":0.45,"F":0.06,"H":0.06},{"e":-2.22,"P":0.5,"B":0.42,"F":0.08,"H":0.12},{"e":-2.3,"P":0.52,"B":0.45,"F":0.1,"H":0.3},{"e":-2.37,"P":0.56,"B":0.5,"F":0.12,"H":0.9},{"e":-2.4,"P":0.6,"B":0.52,"F":0.13,"H":2.55},{"e":-2.45,"P":0.62,"B":0.56,"F":0.15,"H":0.75},{"e":-2.5,"P":0.65,"B":0.62,"F":0.2,"H":0.65},{"e":-2.58,"P":0.75,"B":0.8,"F":0.3,"H":0.72},{"e":-2.65,"P":0.88,"B":0.95,"F":0.33,"H":0.8},{"e":-2.7,"P":0.9,"B":1.0,"F":0.3,"H":0.65},{"e":-2.76,"P":0.6,"B":0.6,"F":0.26,"H":0.2},{"e":-2.82,"P":0.45,"B":0.4,"F":0.24,"H":0.05},{"e":-2.9,"P":0.43,"B":0.3,"F":0.23,"H":0.03},{"e":-3.0,"P":0.46,"B":0.28,"F":0.24,"H":0.02},{"e":-3.1,"P":0.42,"B":0.3,"F":0.23,"H":0.02},{"e":-3.2,"P":0.47,"B":0.27,"F":0.25,"H":0.02},{"e":-3.3,"P":0.43,"B":0.29,"F":0.24,"H":0.02},{"e":-3.4,"P":0.46,"B":0.27,"F":0.25,"H":0.02},{"e":-3.5,"P":0.42,"B":0.29,"F":0.25,"H":0.02},{"e":-3.6,"P":0.47,"B":0.28,"F":0.27,"H":0.02},{"e":-3.7,"P":0.44,"B":0.3,"F":0.28,"H":0.02},{"e":-3.8,"P":0.5,"B":0.32,"F":0.33,"H":0.03},{"e":-3.9,"P":0.45,"B":0.3,"F":0.25,"H":0.06},{"e":-4.0,"P":0.3,"B":0.2,"F":0.15,"H":0.04}
]
},
"vconcat":[
 {"hconcat":[
  {"hconcat":[
   {"width":169,"height":240,
    "layer":[
     {"data":{"name":"kpts"},"mark":{"type":"rule","color":"#5fe05f","strokeDash":[3,2],"strokeWidth":1.2},"encoding":{"x":{"field":"k","type":"quantitative","scale":{"domain":[0,4.732],"nice":false,"zero":false},"axis":{"values":[0,1,3,4.732],"labelExpr":"datum.value == 0 ? 'M' : datum.value == 1 ? 'K' : datum.value == 3 ? 'Γ' : 'M'","ticks":false,"labelPadding":5,"title":null}}}},
     {"data":{"name":"bandA"},"mark":{"type":"line","interpolate":"monotone","clip":true,"color":"#e8262a","strokeWidth":1.25},
      "encoding":{"x":{"field":"k","type":"quantitative","scale":{"domain":[0,4.732],"nice":false,"zero":false},"axis":{"values":[0,1,3,4.732],"labelExpr":"datum.value == 0 ? 'M' : datum.value == 1 ? 'K' : datum.value == 3 ? 'Γ' : 'M'","ticks":false,"labelPadding":5,"title":null}},
       "y":{"field":"e","type":"quantitative","scale":{"domain":[-4,5],"nice":false,"zero":false},"axis":{"orient":"left","values":[-4,-3.5,-3,-2.5,-2,-1.5,-1,-0.5,0,0.5,1,1.5,2,2.5,3,3.5,4,4.5,5],"labelExpr":"datum.value % 1 === 0 ? '' + datum.value : ''","tickSize":{"condition":{"test":"datum.value % 1 === 0","value":-5},"value":-3},"labelPadding":3,"title":"E (eV)","titleFontSize":8.5,"titlePadding":3}},
       "detail":{"field":"b"}}},
     {"data":{"values":[{"t":"(a)"}]},"mark":{"type":"text","font":"Open Sans","fontSize":20,"color":"#222"},
      "encoding":{"text":{"field":"t"},"x":{"datum":1.6,"type":"quantitative","scale":{"domain":[0,4.732],"nice":false,"zero":false}},
       "y":{"datum":0.39,"type":"quantitative","scale":{"domain":[-4,5],"nice":false,"zero":false},"axis":{"orient":"right","values":[-4,-3.5,-3,-2.5,-2,-1.5,-1,-0.5,0,0.5,1,1.5,2,2.5,3,3.5,4,4.5,5],"labels":false,"tickSize":{"condition":{"test":"datum.value % 1 === 0","value":-5},"value":-3},"title":null}}}}
    ],
    "resolve":{"axis":{"y":"independent"}}},
   {"width":167,"height":240,
    "layer":[
     {"data":{"name":"dosA"},"transform":[{"fold":["P","B","F","H"],"as":["s","d"]}],
      "mark":{"type":"line","strokeWidth":1.3,"clip":true},
      "encoding":{"x":{"field":"d","type":"quantitative","scale":{"domain":[0,2.15],"nice":false,"zero":false},"axis":{"values":[0,0.5,1,1.5,2],"labelExpr":"datum.value % 1 === 0 ? '' + datum.value : ''","tickSize":{"condition":{"test":"datum.value % 1 === 0","value":-5},"value":-3},"labelPadding":3,"title":"DOS (states/eV)","titleFontSize":9.5,"titlePadding":4}},
       "y":{"field":"e","type":"quantitative","scale":{"domain":[-4,5],"nice":false,"zero":false},"axis":{"orient":"left","values":[-4,-3.5,-3,-2.5,-2,-1.5,-1,-0.5,0,0.5,1,1.5,2,2.5,3,3.5,4,4.5,5],"labels":false,"tickSize":{"condition":{"test":"datum.value % 1 === 0","value":-5},"value":-3},"title":null}},
       "color":{"field":"s","type":"nominal","scale":{"domain":["P","B","F","H"],"range":["#ffa500","#b99090","#33e833","#1010ee"]},
        "legend":{"orient":"none","legendX":97,"legendY":68,"title":null,"labelExpr":"datum.value == 'P' ? 'P-3p' : datum.value == 'B' ? 'B-2p' : datum.value == 'F' ? 'F-2p' : 'H-1s'","labelFont":"Liberation Serif","labelFontSize":9.5,"labelColor":"#333","strokeColor":"#666","fillColor":"#fff","padding":5,"rowPadding":3,"symbolType":"stroke","symbolSize":100,"symbolStrokeWidth":1.5}},
       "order":{"field":"e","type":"quantitative"}}},
     {"data":{"values":[{"z":0}]},"mark":{"type":"point","opacity":0},
      "encoding":{"y":{"field":"z","type":"quantitative","scale":{"domain":[-4,5],"nice":false,"zero":false},"axis":{"orient":"right","values":[-4,-3.5,-3,-2.5,-2,-1.5,-1,-0.5,0,0.5,1,1.5,2,2.5,3,3.5,4,4.5,5],"labels":false,"tickSize":{"condition":{"test":"datum.value % 1 === 0","value":-5},"value":-3},"title":null}}}}
    ],
    "resolve":{"axis":{"y":"independent"}}}
  ],"spacing":9,"bounds":"flush","resolve":{"scale":{"color":"independent"}}},
  {"hconcat":[
   {"width":168,"height":240,
    "layer":[
     {"data":{"name":"kpts"},"mark":{"type":"rule","color":"#5fe05f","strokeDash":[3,2],"strokeWidth":1.2},"encoding":{"x":{"field":"k","type":"quantitative","scale":{"domain":[0,4.732],"nice":false,"zero":false},"axis":{"values":[0,1,3,4.732],"labelExpr":"datum.value == 0 ? 'M' : datum.value == 1 ? 'K' : datum.value == 3 ? 'Γ' : 'M'","ticks":false,"labelPadding":5,"title":null}}}},
     {"data":{"name":"bandB"},"mark":{"type":"line","interpolate":"monotone","clip":true,"color":"#e8262a","strokeWidth":1.25},
      "encoding":{"x":{"field":"k","type":"quantitative","scale":{"domain":[0,4.732],"nice":false,"zero":false},"axis":{"values":[0,1,3,4.732],"labelExpr":"datum.value == 0 ? 'M' : datum.value == 1 ? 'K' : datum.value == 3 ? 'Γ' : 'M'","ticks":false,"labelPadding":5,"title":null}},
       "y":{"field":"e","type":"quantitative","scale":{"domain":[-4,5],"nice":false,"zero":false},"axis":{"orient":"left","values":[-4,-3.5,-3,-2.5,-2,-1.5,-1,-0.5,0,0.5,1,1.5,2,2.5,3,3.5,4,4.5,5],"labelExpr":"datum.value % 1 === 0 ? '' + datum.value : ''","tickSize":{"condition":{"test":"datum.value % 1 === 0","value":-5},"value":-3},"labelPadding":3,"title":"E (eV)","titleFontSize":8.5,"titlePadding":3}},
       "detail":{"field":"b"}}},
     {"data":{"values":[{"t":"(b)"}]},"mark":{"type":"text","font":"Open Sans","fontSize":20,"color":"#222"},
      "encoding":{"text":{"field":"t"},"x":{"datum":1.55,"type":"quantitative","scale":{"domain":[0,4.732],"nice":false,"zero":false}},
       "y":{"datum":0.38,"type":"quantitative","scale":{"domain":[-4,5],"nice":false,"zero":false},"axis":{"orient":"right","values":[-4,-3.5,-3,-2.5,-2,-1.5,-1,-0.5,0,0.5,1,1.5,2,2.5,3,3.5,4,4.5,5],"labels":false,"tickSize":{"condition":{"test":"datum.value % 1 === 0","value":-5},"value":-3},"title":null}}}}
    ],
    "resolve":{"axis":{"y":"independent"}}},
   {"width":163,"height":240,
    "layer":[
     {"data":{"name":"dosB"},"transform":[{"fold":["P","B","F","H"],"as":["s","d"]}],
      "mark":{"type":"line","strokeWidth":1.3,"clip":true},
      "encoding":{"x":{"field":"d","type":"quantitative","scale":{"domain":[0,1.74],"nice":false,"zero":false},"axis":{"values":[0,0.375,0.75,1.125,1.5],"labelExpr":"indexof([0,0.75,1.5], datum.value) >= 0 ? '' + datum.value : ''","tickSize":{"condition":{"test":"indexof([0,0.75,1.5], datum.value) >= 0","value":-5},"value":-3},"labelPadding":3,"title":"DOS (states/eV)","titleFontSize":9.5,"titlePadding":4}},
       "y":{"field":"e","type":"quantitative","scale":{"domain":[-4,5],"nice":false,"zero":false},"axis":{"orient":"left","values":[-4,-3.5,-3,-2.5,-2,-1.5,-1,-0.5,0,0.5,1,1.5,2,2.5,3,3.5,4,4.5,5],"labels":false,"tickSize":{"condition":{"test":"datum.value % 1 === 0","value":-5},"value":-3},"title":null}},
       "color":{"field":"s","type":"nominal","scale":{"domain":["P","B","F","H"],"range":["#ffa500","#b99090","#33e833","#ee1111"]},
        "legend":{"orient":"none","legendX":94,"legendY":69,"title":null,"labelExpr":"datum.value == 'P' ? 'As-4p' : datum.value == 'B' ? 'B-2p' : datum.value == 'F' ? 'F-2p' : 'H-1s'","labelFont":"Liberation Serif","labelFontSize":9.5,"labelColor":"#333","strokeColor":"#666","fillColor":"#fff","padding":5,"rowPadding":3,"symbolType":"stroke","symbolSize":100,"symbolStrokeWidth":1.5}},
       "order":{"field":"e","type":"quantitative"}}},
     {"data":{"values":[{"z":0}]},"mark":{"type":"point","opacity":0},
      "encoding":{"y":{"field":"z","type":"quantitative","scale":{"domain":[-4,5],"nice":false,"zero":false},"axis":{"orient":"right","values":[-4,-3.5,-3,-2.5,-2,-1.5,-1,-0.5,0,0.5,1,1.5,2,2.5,3,3.5,4,4.5,5],"labels":false,"tickSize":{"condition":{"test":"datum.value % 1 === 0","value":-5},"value":-3},"title":null}}}}
    ],
    "resolve":{"axis":{"y":"independent"}}}
  ],"spacing":7,"bounds":"flush","resolve":{"scale":{"color":"independent"}}}
 ],"spacing":35,"resolve":{"scale":{"color":"independent"}}},
 {"hconcat":[
  {"hconcat":[
   {"width":168,"height":240,
    "layer":[
     {"data":{"name":"kpts"},"mark":{"type":"rule","color":"#5fe05f","strokeDash":[3,2],"strokeWidth":1.2},"encoding":{"x":{"field":"k","type":"quantitative","scale":{"domain":[0,4.732],"nice":false,"zero":false},"axis":{"values":[0,1,3,4.732],"labelExpr":"datum.value == 0 ? 'M' : datum.value == 1 ? 'K' : datum.value == 3 ? 'Γ' : 'M'","ticks":false,"labelPadding":5,"title":null}}}},
     {"data":{"name":"bandC"},"mark":{"type":"line","interpolate":"monotone","clip":true,"color":"#e8262a","strokeWidth":1.25},
      "encoding":{"x":{"field":"k","type":"quantitative","scale":{"domain":[0,4.732],"nice":false,"zero":false},"axis":{"values":[0,1,3,4.732],"labelExpr":"datum.value == 0 ? 'M' : datum.value == 1 ? 'K' : datum.value == 3 ? 'Γ' : 'M'","ticks":false,"labelPadding":5,"title":null}},
       "y":{"field":"e","type":"quantitative","scale":{"domain":[-4,4],"nice":false,"zero":false},"axis":{"orient":"left","values":[-4,-3.5,-3,-2.5,-2,-1.5,-1,-0.5,0,0.5,1,1.5,2,2.5,3,3.5,4],"labelExpr":"datum.value % 1 === 0 ? '' + datum.value : ''","tickSize":{"condition":{"test":"datum.value % 1 === 0","value":-5},"value":-3},"labelPadding":3,"title":"E (eV)","titleFontSize":8.5,"titlePadding":3}},
       "detail":{"field":"b"}}},
     {"data":{"values":[{"t":"(c)"}]},"mark":{"type":"text","font":"Open Sans","fontSize":20,"color":"#222"},
      "encoding":{"text":{"field":"t"},"x":{"datum":1.6,"type":"quantitative","scale":{"domain":[0,4.732],"nice":false,"zero":false}},
       "y":{"datum":0.03,"type":"quantitative","scale":{"domain":[-4,4],"nice":false,"zero":false},"axis":{"orient":"right","values":[-4,-3.5,-3,-2.5,-2,-1.5,-1,-0.5,0,0.5,1,1.5,2,2.5,3,3.5,4],"labels":false,"tickSize":{"condition":{"test":"datum.value % 1 === 0","value":-5},"value":-3},"title":null}}}}
    ],
    "resolve":{"axis":{"y":"independent"}}},
   {"width":165,"height":240,
    "layer":[
     {"data":{"name":"dosC"},"transform":[{"fold":["P","B","F","H"],"as":["s","d"]}],
      "mark":{"type":"line","strokeWidth":1.3,"clip":true},
      "encoding":{"x":{"field":"d","type":"quantitative","scale":{"domain":[0,2.5],"nice":false,"zero":false},"axis":{"values":[0,0.625,1.25,1.875,2.5],"labelExpr":"indexof([0,1.25,2.5], datum.value) >= 0 ? '' + datum.value : ''","tickSize":{"condition":{"test":"indexof([0,1.25,2.5], datum.value) >= 0","value":-5},"value":-3},"labelPadding":3,"title":"DOS (states/eV)","titleFontSize":9.5,"titlePadding":4}},
       "y":{"field":"e","type":"quantitative","scale":{"domain":[-4,4],"nice":false,"zero":false},"axis":{"orient":"left","values":[-4,-3.5,-3,-2.5,-2,-1.5,-1,-0.5,0,0.5,1,1.5,2,2.5,3,3.5,4],"labels":false,"tickSize":{"condition":{"test":"datum.value % 1 === 0","value":-5},"value":-3},"title":null}},
       "color":{"field":"s","type":"nominal","scale":{"domain":["P","B","F","H"],"range":["#ffa500","#b99090","#1a8a1a","#1010ee"]},
        "legend":{"orient":"none","legendX":92,"legendY":67,"title":null,"labelExpr":"datum.value == 'P' ? 'P-3p' : datum.value == 'B' ? 'B-2p' : datum.value == 'F' ? 'F-2p' : 'H-1s'","labelFont":"Liberation Serif","labelFontSize":9.5,"labelColor":"#333","strokeColor":"#666","fillColor":"#fff","padding":5,"rowPadding":3,"symbolType":"stroke","symbolSize":100,"symbolStrokeWidth":1.5}},
       "order":{"field":"e","type":"quantitative"}}},
     {"data":{"values":[{"z":0}]},"mark":{"type":"point","opacity":0},
      "encoding":{"y":{"field":"z","type":"quantitative","scale":{"domain":[-4,4],"nice":false,"zero":false},"axis":{"orient":"right","values":[-4,-3.5,-3,-2.5,-2,-1.5,-1,-0.5,0,0.5,1,1.5,2,2.5,3,3.5,4],"labels":false,"tickSize":{"condition":{"test":"datum.value % 1 === 0","value":-5},"value":-3},"title":null}}}}
    ],
    "resolve":{"axis":{"y":"independent"}}}
  ],"spacing":12,"bounds":"flush","resolve":{"scale":{"color":"independent"}}},
  {"hconcat":[
   {"width":166,"height":240,
    "layer":[
     {"data":{"name":"kpts"},"mark":{"type":"rule","color":"#5fe05f","strokeDash":[3,2],"strokeWidth":1.2},"encoding":{"x":{"field":"k","type":"quantitative","scale":{"domain":[0,4.732],"nice":false,"zero":false},"axis":{"values":[0,1,3,4.732],"labelExpr":"datum.value == 0 ? 'M' : datum.value == 1 ? 'K' : datum.value == 3 ? 'Γ' : 'M'","ticks":false,"labelPadding":5,"title":null}}}},
     {"data":{"name":"bandD"},"mark":{"type":"line","interpolate":"monotone","clip":true,"color":"#e8262a","strokeWidth":1.25},
      "encoding":{"x":{"field":"k","type":"quantitative","scale":{"domain":[0,4.732],"nice":false,"zero":false},"axis":{"values":[0,1,3,4.732],"labelExpr":"datum.value == 0 ? 'M' : datum.value == 1 ? 'K' : datum.value == 3 ? 'Γ' : 'M'","ticks":false,"labelPadding":5,"title":null}},
       "y":{"field":"e","type":"quantitative","scale":{"domain":[-4,4],"nice":false,"zero":false},"axis":{"orient":"left","values":[-4,-3.5,-3,-2.5,-2,-1.5,-1,-0.5,0,0.5,1,1.5,2,2.5,3,3.5,4],"labelExpr":"datum.value % 1 === 0 ? '' + datum.value : ''","tickSize":{"condition":{"test":"datum.value % 1 === 0","value":-5},"value":-3},"labelPadding":3,"title":"E (eV)","titleFontSize":8.5,"titlePadding":3}},
       "detail":{"field":"b"}}},
     {"data":{"values":[{"t":"(d)"}]},"mark":{"type":"text","font":"Open Sans","fontSize":20,"color":"#222"},
      "encoding":{"text":{"field":"t"},"x":{"datum":1.68,"type":"quantitative","scale":{"domain":[0,4.732],"nice":false,"zero":false}},
       "y":{"datum":0.1,"type":"quantitative","scale":{"domain":[-4,4],"nice":false,"zero":false},"axis":{"orient":"right","values":[-4,-3.5,-3,-2.5,-2,-1.5,-1,-0.5,0,0.5,1,1.5,2,2.5,3,3.5,4],"labels":false,"tickSize":{"condition":{"test":"datum.value % 1 === 0","value":-5},"value":-3},"title":null}}}}
    ],
    "resolve":{"axis":{"y":"independent"}}},
   {"width":162,"height":240,
    "layer":[
     {"data":{"name":"dosD"},"transform":[{"fold":["P","B","F","H"],"as":["s","d"]}],
      "mark":{"type":"line","strokeWidth":1.3,"clip":true},
      "encoding":{"x":{"field":"d","type":"quantitative","scale":{"domain":[0,2.6],"nice":false,"zero":false},"axis":{"values":[0,0.65,1.3,1.95,2.6],"labelExpr":"indexof([0,1.3,2.6], datum.value) >= 0 ? '' + datum.value : ''","tickSize":{"condition":{"test":"indexof([0,1.3,2.6], datum.value) >= 0","value":-5},"value":-3},"labelPadding":3,"title":"DOS (states/eV)","titleFontSize":9.5,"titlePadding":4}},
       "y":{"field":"e","type":"quantitative","scale":{"domain":[-4,4],"nice":false,"zero":false},"axis":{"orient":"left","values":[-4,-3.5,-3,-2.5,-2,-1.5,-1,-0.5,0,0.5,1,1.5,2,2.5,3,3.5,4],"labels":false,"tickSize":{"condition":{"test":"datum.value % 1 === 0","value":-5},"value":-3},"title":null}},
       "color":{"field":"s","type":"nominal","scale":{"domain":["P","B","F","H"],"range":["#ffa500","#b99090","#1a8a1a","#1010ee"]},
        "legend":{"orient":"none","legendX":93,"legendY":68,"title":null,"labelExpr":"datum.value == 'P' ? 'P-3p' : datum.value == 'B' ? 'B-2p' : datum.value == 'F' ? 'F-2p' : 'H-1s'","labelFont":"Liberation Serif","labelFontSize":9.5,"labelColor":"#333","strokeColor":"#666","fillColor":"#fff","padding":5,"rowPadding":3,"symbolType":"stroke","symbolSize":100,"symbolStrokeWidth":1.5}},
       "order":{"field":"e","type":"quantitative"}}},
     {"data":{"values":[{"z":0}]},"mark":{"type":"point","opacity":0},
      "encoding":{"y":{"field":"z","type":"quantitative","scale":{"domain":[-4,4],"nice":false,"zero":false},"axis":{"orient":"right","values":[-4,-3.5,-3,-2.5,-2,-1.5,-1,-0.5,0,0.5,1,1.5,2,2.5,3,3.5,4],"labels":false,"tickSize":{"condition":{"test":"datum.value % 1 === 0","value":-5},"value":-3},"title":null}}}}
    ],
    "resolve":{"axis":{"y":"independent"}}}
  ],"spacing":17,"bounds":"flush","resolve":{"scale":{"color":"independent"}}}
 ],"spacing":23,"resolve":{"scale":{"color":"independent"}}}
],
"spacing":7,
"resolve":{"scale":{"color":"independent"}}
}
